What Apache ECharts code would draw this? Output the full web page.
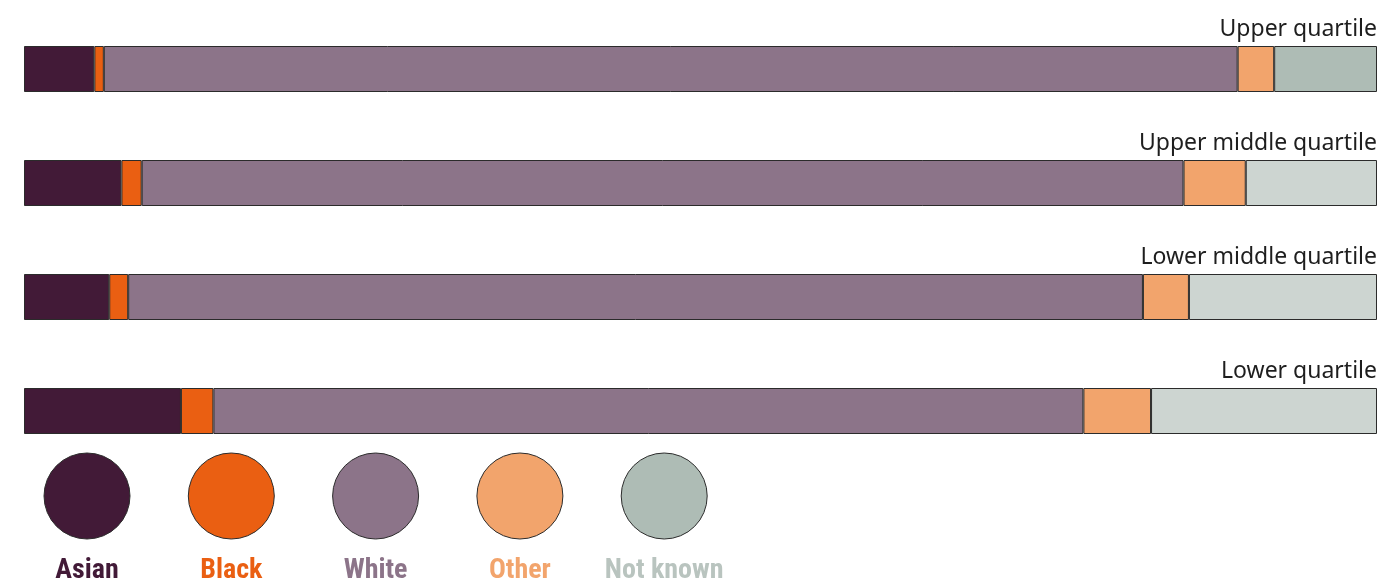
<!DOCTYPE html>
<html>
<head>
<meta charset="utf-8">
<script src="https://cdn.jsdelivr.net/npm/echarts@6/dist/echarts.min.js"></script>
<style>
  html, body { margin: 0; padding: 0; background: #fff; }
  #chart { width: 1387px; height: 583px; }
</style>
</head>
<body>
<div id="chart"></div>
<script>
// quartile rows, top to bottom
var categories = ['Upper quartile', 'Upper middle quartile', 'Lower middle quartile', 'Lower quartile'];
var groups = ['Asian', 'Black', 'White', 'Other', 'Not known'];
// share of each group in each quartile (%)
var asian = [5.2, 7.2, 6.3, 11.6];
var black = [0.7, 1.5, 1.4, 2.4];
var white = [83.8, 77.0, 75.0, 64.3];
var other = [2.7, 4.6, 3.4, 5.0];
var notKnown = [7.6, 9.7, 13.9, 16.7];

var colors = ['#421a37', '#ea5f12', '#8c7489', '#f2a46c', '#aebcb5'];
var textColors = ['#421a37', '#ea5f12', '#8c7489', '#f2a46c', '#b9c4bf'];
var values = [asian, black, white, other, notKnown];

var myChart = echarts.init(document.getElementById('chart'));

var series = groups.map(function (name, k) {
  var s = {
    name: name,
    type: 'bar',
    stack: 'total',
    barWidth: 46,
    silent: true,
    itemStyle: { color: colors[k], borderColor: '#2b2b2b', borderWidth: 1 },
    data: values[k].map(function (v, i) {
      // lighter grey for the lower three "not known" segments
      if (k === 4 && i > 0) return { value: v, itemStyle: { color: '#cdd5d1' } };
      return v;
    })
  };
  if (k === 4) {
    s.label = {
      show: true,
      position: ['100%', -5],
      align: 'right',
      verticalAlign: 'bottom',
      fontFamily: 'Noto Sans',
      fontSize: 23,
      color: '#1e1e1e',
      formatter: function (p) { return p.name; }
    };
  }
  return s;
});

// legend: circles with the name underneath
var graphic = [];
groups.forEach(function (name, k) {
  var cx = 87 + k * 144.3;
  graphic.push({
    type: 'circle',
    shape: { cx: cx, cy: 496, r: 43 },
    style: { fill: colors[k], stroke: '#2b2b2b', lineWidth: 1 }
  });
  graphic.push({
    type: 'text',
    x: cx,
    y: 571,
    style: {
      text: name,
      fill: textColors[k],
      font: 'bold 28px "Liberation Sans Narrow", "Roboto Condensed", Roboto, sans-serif',
      align: 'center',
      verticalAlign: 'middle'
    }
  });
});

var option = {
  animation: false,
  grid: { left: 24, right: 10, top: 12, height: 456 },
  xAxis: { type: 'value', min: 0, max: 100, show: false },
  yAxis: {
    type: 'category',
    data: categories,
    inverse: true,
    show: false
  },
  series: series,
  graphic: graphic
};
myChart.setOption(option);
</script>
</body>
</html>
